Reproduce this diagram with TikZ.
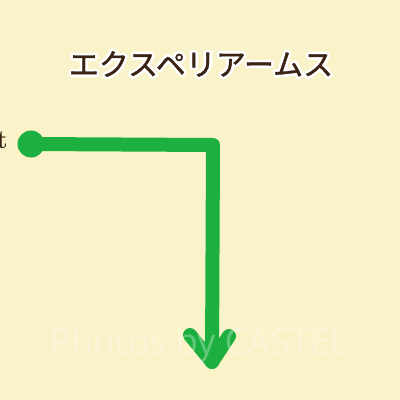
\documentclass[tikz,border=0pt]{standalone}
\usepackage{fontspec}
\newfontfamily\jpfont{Noto Sans CJK JP}[FakeBold=1.2]
\newfontfamily\wmfont{Open Sans}
\usetikzlibrary{calc}
\definecolor{bg}{HTML}{FAF2C8}
\definecolor{grn}{HTML}{1DB040}
\definecolor{brn}{HTML}{3A2314}
\tikzset{
  flow/.style={draw=grn, line width=14pt, line cap=round, line join=round},
  titletext/.style={font=\jpfont\fontsize{30}{30}\selectfont, inner sep=0pt},
}
\begin{document}
\begin{tikzpicture}[x=1pt,y=-1pt]
\fill[bg] (0,0) rectangle (400,400);
\useasboundingbox (0,0) rectangle (400,400);
% title with white outline
\foreach \a in {0,30,...,330}{
  \node[titletext, text=white] at ($(201,64)+(\a:2.6)$) {エクスペリアームス};
}
\node[titletext, text=brn] (title) at (201,64) {エクスペリアームス};
% cut-off label
\node[font=\bfseries\fontsize{26}{26}\selectfont, text=brn, inner sep=0pt, anchor=base east] (lbl) at (8,148) {t};
% connector
\node[circle, fill=grn, minimum size=27pt, inner sep=0pt] (start) at (31,144) {};
\coordinate (corner) at (213,145);
\coordinate (tip) at (212,362);
\coordinate (armL) at (190,335);
\coordinate (armR) at (229,336);
\draw[flow] (start.center) -- (corner) -- (tip);
\draw[flow] (armL) -- (tip) -- (armR);
% watermark
\node[font=\wmfont\fontsize{36}{36}\selectfont, text=white, text opacity=0.3, inner sep=0pt] (wmark) at (199,345) {Photos by CASTEL};
\end{tikzpicture}
\end{document}
